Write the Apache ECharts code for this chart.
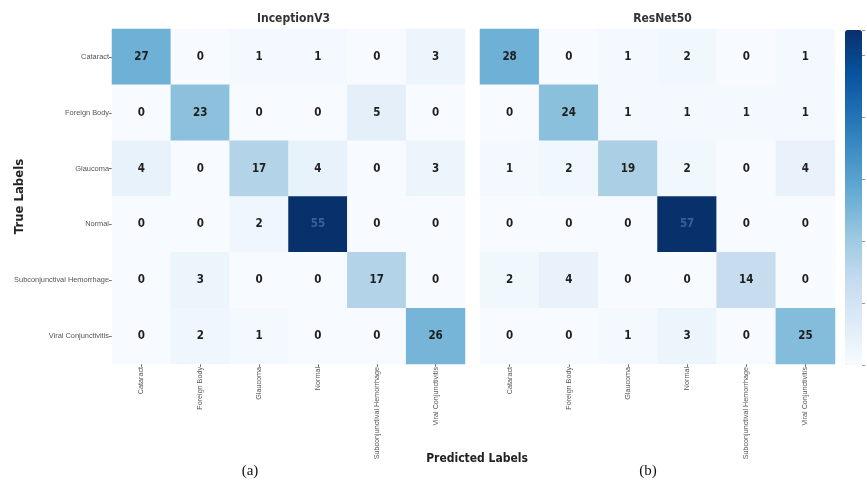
<!DOCTYPE html>
<html>
<head>
<meta charset="utf-8">
<script src="https://cdn.jsdelivr.net/npm/echarts@6/dist/echarts.min.js"></script>
<style>
html,body{margin:0;padding:0;background:#fff}
#chart{width:867px;height:482px}
</style>
</head>
<body>
<div id="chart"></div>
<script>
// Class names shared by both confusion matrices (rows = true, columns = predicted)
const classes = ['Cataract', 'Foreign Body', 'Glaucoma', 'Normal', 'Subconjunctival Hemorrhage', 'Viral Conjunctivitis'];

// Confusion matrix counts per model
const inceptionV3 = [
  [27, 0, 1, 1, 0, 3],
  [0, 23, 0, 0, 5, 0],
  [4, 0, 17, 4, 0, 3],
  [0, 0, 2, 55, 0, 0],
  [0, 3, 0, 0, 17, 0],
  [0, 2, 1, 0, 0, 26]
];
const resNet50 = [
  [28, 0, 1, 2, 0, 1],
  [0, 24, 1, 1, 1, 1],
  [1, 2, 19, 2, 0, 4],
  [0, 0, 0, 57, 0, 0],
  [2, 4, 0, 0, 14, 0],
  [0, 0, 1, 3, 0, 25]
];
const modelNames = ['InceptionV3', 'ResNet50'];
const panelTags = ['(a)', '(b)'];
const colorbarTickStep = 10;
const colorbarTickMax = 54;

// "Blues" sequential palette
const blues = ['#f7fbff', '#deebf7', '#c6dbef', '#9ecae1', '#6baed6', '#4292c6', '#2171b5', '#08519c', '#08306b'];

const numFont = '"DejaVu Sans Condensed", "DejaVu Sans", sans-serif';
const smallFont = '"Liberation Sans", Arial, sans-serif';

function toCells(matrix) {
  const max = Math.max(...matrix.flat());
  const out = [];
  matrix.forEach((row, r) => row.forEach((v, c) => {
    const item = { value: [c, r, v] };
    if (v / max > 0.8) item.label = { color: '#3d5e9e' };
    out.push(item);
  }));
  return out;
}

const panels = [
  { left: 112, width: 353 },
  { left: 480, width: 355 }
];
const gridTop = 29, gridHeight = 335;

const grids = panels.map(p => ({
  left: p.left, width: p.width, top: gridTop, height: gridHeight,
  containLabel: false, outerBoundsMode: 'none'
}));
// thin grid on the right edge of the colour bar, used only for its tick marks
grids.push({ left: 862, width: 1, top: 30, height: 335, containLabel: false, outerBoundsMode: 'none' });

const xAxes = panels.map((p, i) => ({
  type: 'category', gridIndex: i, data: classes, position: 'bottom',
  axisLine: { show: false },
  axisTick: { show: true, length: 3, alignWithLabel: true, lineStyle: { color: '#777' } },
  axisLabel: { rotate: 90, fontSize: 7.2, color: '#555', fontFamily: smallFont, margin: 3, interval: 0 },
  splitLine: { show: false }
}));
xAxes.push({ type: 'value', gridIndex: 2, show: false, min: 0, max: 1 });

const yAxes = panels.map((p, i) => ({
  type: 'category', gridIndex: i, data: classes, inverse: true,
  axisLine: { show: false },
  axisTick: { show: i === 0, length: 3, alignWithLabel: true, lineStyle: { color: '#777' } },
  axisLabel: { show: i === 0, fontSize: 7.4, color: '#555', fontFamily: smallFont, margin: 3, interval: 0 },
  name: i === 0 ? 'True Labels' : '',
  nameLocation: 'middle', nameRotate: 90, nameGap: 86, nameMoveOverlap: false,
  nameTextStyle: { fontSize: 13, fontWeight: 'bold', color: '#222', fontFamily: numFont },
  splitLine: { show: false }
}));
// Tick marks along the colour bar
yAxes.push({
  type: 'value', gridIndex: 2, position: 'left', min: 0, max: colorbarTickMax, interval: colorbarTickStep,
  axisLine: { show: false },
  axisTick: { show: true, inside: true, length: 3, lineStyle: { color: '#999' } },
  axisLabel: { show: false },
  splitLine: { show: false }
});

const matrices = [inceptionV3, resNet50];

const option = {
  backgroundColor: '#fff',
  animation: false,
  title: [
    ...modelNames.map((n, i) => ({
      text: n, left: panels[i].left + panels[i].width / 2, top: 8, textAlign: 'center',
      textStyle: { fontSize: 12, fontWeight: 'bold', color: '#333', fontFamily: numFont }
    })),
    ...panelTags.map((t, i) => ({
      text: t, left: i === 0 ? 245 : 643, top: 459, textAlign: 'center',
      textStyle: { fontSize: 15, fontWeight: 'normal', color: '#111', fontFamily: '"Liberation Serif", "DejaVu Serif", serif' }
    })),
    {
      text: 'Predicted Labels', left: 472, top: 448, textAlign: 'center',
      textStyle: { fontSize: 12, fontWeight: 'bold', color: '#222', fontFamily: numFont }
    }
  ],
  grid: grids,
  xAxis: xAxes,
  yAxis: yAxes,
  visualMap: [
    {
      type: 'continuous', seriesIndex: 0, show: false,
      min: 0, max: Math.max(...inceptionV3.flat()),
      inRange: { color: blues }
    },
    {
      type: 'continuous', seriesIndex: 1, show: true,
      min: 0, max: Math.max(...resNet50.flat()),
      left: 845, top: 30, padding: 0, itemWidth: 17, itemHeight: 335,
      calculable: false, showLabel: false, hoverLink: false,
      inRange: { color: blues }
    }
  ],
  series: matrices.map((m, i) => ({
    type: 'heatmap', xAxisIndex: i, yAxisIndex: i,
    data: toCells(m),
    label: { show: true, fontSize: 11.5, fontWeight: 'bold', color: '#1e1e1e', fontFamily: numFont },
    itemStyle: { borderWidth: 0 },
    emphasis: { disabled: true }
  }))
};

const chart = echarts.init(document.getElementById('chart'), null, { renderer: 'canvas' });
chart.setOption(option);
</script>
</body>
</html>
